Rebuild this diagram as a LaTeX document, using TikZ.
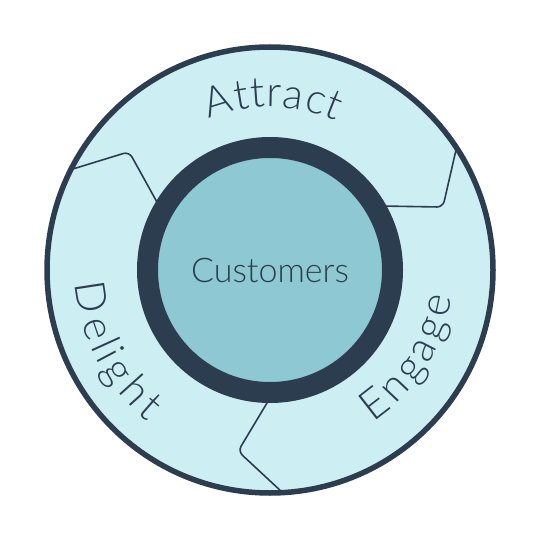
\documentclass[tikz,border=0pt]{standalone}
\usepackage{fontspec}
\setmainfont{Lato}[UprightFont={* Light}]
\definecolor{NavyColor}{RGB}{44,61,80}
\definecolor{BandColor}{RGB}{205,239,243}
\definecolor{CoreColor}{RGB}{142,200,211}
\usetikzlibrary{positioning, decorations.text}
\newcommand{\stagefont}{\fontsize{42}{42}\selectfont}
\tikzstyle{seam} = [line width=1.6pt, NavyColor, rounded corners=6pt]
\tikzset{stage/.style={decorate, decoration={text effects along path, text={#1},
    text effects/.cd, text along path, fit text to path,
    characters={font=\stagefont, text=NavyColor, inner sep=0pt}}}}

\begin{document}
\begin{tikzpicture}[x=1pt, y=1pt]
  \useasboundingbox (0,0) rectangle (540,539);
  \coordinate (hub) at (270,269);

  % Wheel
  \node[circle, draw=NavyColor, fill=BandColor, line width=5.5pt, minimum size=446pt, inner sep=0pt] (wheel) at (hub) {};

  % Seams between the stages
  \foreach \a in {30,150,270}
    \draw[seam, shift={(hub)}] (\a:128pt) -- (\a-10:184pt) -- (\a+3:222pt);

  % Customers at the hub
  \node[circle, draw=NavyColor, fill=CoreColor, line width=21pt, minimum size=245pt, inner sep=0pt,
        text=NavyColor, font=\fontsize{34}{34}\selectfont] (core) at (hub) {Customers};

  % Stage labels
  \path[stage=Attract, shift={(hub)}] (112:163pt) arc[start angle=112, end angle=66, radius=163pt];
  \path[stage=Engage, shift={(hub)}] (-56:184pt) arc[start angle=-56, end angle=-8.5, radius=184pt];
  \path[stage=Delight, shift={(hub)}] (184:195pt) arc[start angle=184, end angle=231, radius=195pt];
\end{tikzpicture}
\end{document}
